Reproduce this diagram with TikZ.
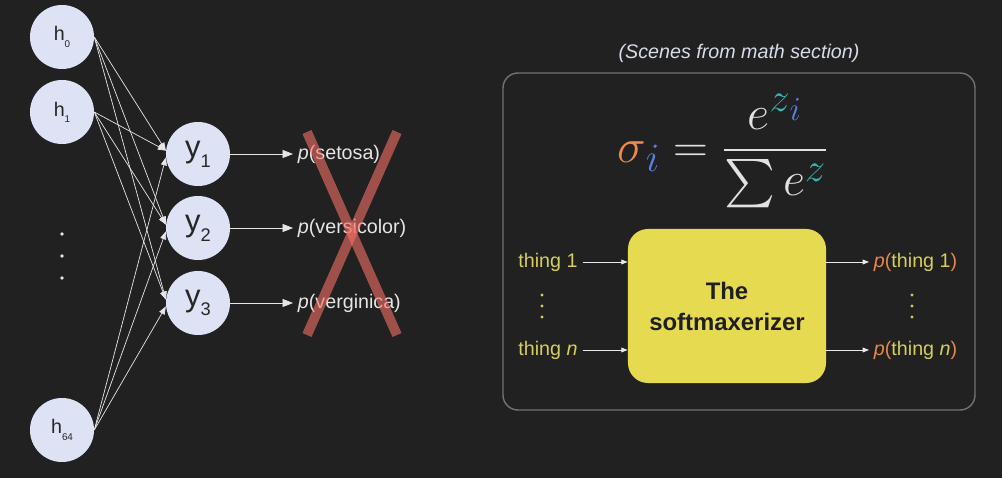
\documentclass[tikz,border=0pt]{standalone}
\usepackage{amsmath,amssymb}
\usepackage{xcolor}
\usepackage{fontspec}
\setmainfont{Liberation Sans}
\usetikzlibrary{arrows.meta,positioning,calc}
\definecolor{bgdark}{HTML}{212121}
\definecolor{nodefill}{HTML}{DDE2F5}
\definecolor{edgewhite}{HTML}{E6E6E6}
\definecolor{crossred}{RGB}{245,112,103}
\definecolor{panelgray}{HTML}{727272}
\definecolor{captiongray}{HTML}{D8DCEB}
\definecolor{softyellow}{HTML}{E6DB50}
\definecolor{thingyellow}{HTML}{D4CF5E}
\definecolor{porange}{HTML}{E9874F}
\definecolor{sigorange}{HTML}{E98A50}
\definecolor{iblue}{HTML}{5A80E0}
\definecolor{zteal}{HTML}{3CB4B4}
\definecolor{mathgray}{HTML}{E2E2E2}
\newcommand{\hidlabel}[1]{\fontsize{14}{14}\selectfont h\raisebox{-0.6ex}{\fontsize{7}{7}\selectfont #1}}
\newcommand{\outlabel}[1]{\fontsize{22}{22}\selectfont y\raisebox{-0.6ex}{\fontsize{13}{13}\selectfont #1}}

\begin{document}
\begin{tikzpicture}[x=0.025cm, y=-0.025cm, every node/.style={font=\fontsize{14}{17}\selectfont},
  neuron/.style={circle, fill=nodefill, minimum size=1.6cm, inner sep=0pt, text=black!85},
  edge/.style={draw=edgewhite, line width=0.5pt, -{Triangle[length=2mm, width=1.5mm]}},
  arr/.style={draw=edgewhite!85, line width=0.6pt, -{Triangle[length=1.6mm, width=1.2mm]}}]
  \fill[bgdark] (0,0) rectangle (1002,478);
  \useasboundingbox (0,0) rectangle (1002,478);

  % network
  \node[neuron] (h0) at (62,37) {\hidlabel{0}};
  \node[neuron] (h1) at (62,112) {\hidlabel{1}};
  \node[neuron] (h64) at (62,430) {\hidlabel{64}};
  \foreach \yy in {234,256,278} \fill[edgewhite] (62,\yy) circle (1.4pt);
  \node[neuron] (y1) at (198,154) {\outlabel{1}};
  \node[neuron] (y2) at (198,228) {\outlabel{2}};
  \node[neuron] (y3) at (198,303) {\outlabel{3}};
  \foreach \h/\a in {h0/174,h1/174,h64/186}
    \foreach \y in {y1,y2,y3}
      \draw[edge] (\h.east) -- (\y.\a);

  \node[anchor=west, text=edgewhite] (p1) at (293,154) {\textit{p}(setosa)};
  \node[anchor=west, text=edgewhite] (p2) at (293,228) {\textit{p}(versicolor)};
  \node[anchor=west, text=edgewhite] (p3) at (293,303) {\textit{p}(verginica)};
  \foreach \i in {1,2,3}
    \draw[edge, -{Triangle[length=2.6mm, width=2mm]}] (y\i.east) -- (p\i.west);
  \draw[crossred, opacity=0.6, line width=7pt] (307,132) -- (397,335);
  \draw[crossred, opacity=0.6, line width=7pt] (397,132) -- (307,335);

  % softmax panel
  \node[text=captiongray] (caption) at (739,53) {\textit{(Scenes from math section)}};
  \draw[panelgray, line width=1pt, rounded corners=3.75mm] (503,73) rectangle (975,410);
  \node[text=mathgray, font=\fontsize{24.88}{30}\selectfont] (formula) at (723,151)
    {\scalebox{1.38}{$\displaystyle \textcolor{sigorange}{\sigma}_{\textcolor{iblue}{i}}
      = \frac{e^{\textcolor{zteal}{z}_{\textcolor{iblue}{i}}}}{\sum e^{\textcolor{zteal}{z}}}$}};
  \node[fill=softyellow, rounded corners=5mm, minimum width=4.95cm, minimum height=3.85cm,
    align=center, text=black!88, font=\bfseries\fontsize{17}{22}\selectfont] (soft) at (727,306)
    {The\\softmaxerizer};

  \node[text=thingyellow] (t1) at (548,262) {thing 1};
  \node[text=thingyellow] (tn) at (548,350) {thing \textit{n}};
  \foreach \yy in {295,306,317} \fill[thingyellow] (542,\yy) circle (1.2pt);
  \draw[arr] (t1.east) -- (t1 -| soft.west);
  \draw[arr] (tn.east) -- (tn -| soft.west);

  \node[anchor=west, text=thingyellow] (pt1) at (869,262)
    {\textcolor{porange}{\textit{p}(}thing 1\textcolor{porange}{)}};
  \node[anchor=west, text=thingyellow] (ptn) at (869,350)
    {\textcolor{porange}{\textit{p}(}thing \textit{n}\textcolor{porange}{)}};
  \foreach \yy in {295,306,317} \fill[thingyellow] (912,\yy) circle (1.2pt);
  \draw[arr] (soft.east |- pt1) -- (pt1.west);
  \draw[arr] (soft.east |- ptn) -- (ptn.west);
\end{tikzpicture}
\end{document}
